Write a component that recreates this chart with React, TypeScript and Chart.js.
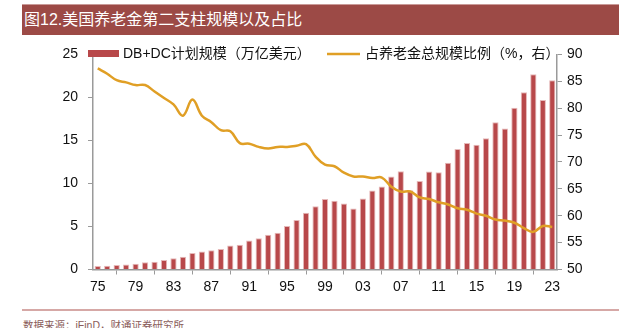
import React, { useEffect, useRef } from "react";
import { Chart, registerables } from "chart.js";

Chart.register(...registerables);

const years: string[] = [
  "1975", "1976", "1977", "1978", "1979", "1980", "1981", "1982", "1983", "1984",
  "1985", "1986", "1987", "1988", "1989", "1990", "1991", "1992", "1993", "1994",
  "1995", "1996", "1997", "1998", "1999", "2000", "2001", "2002", "2003", "2004",
  "2005", "2006", "2007", "2008", "2009", "2010", "2011", "2012", "2013", "2014",
  "2015", "2016", "2017", "2018", "2019", "2020", "2021", "2022", "2023",
];

// DB+DC 计划规模（万亿美元）
const planAssets: number[] = [
  0.42, 0.45, 0.53, 0.57, 0.68, 0.83, 0.9, 1.09, 1.32, 1.47,
  1.92, 2.08, 2.23, 2.38, 2.79, 2.87, 3.36, 3.62, 4.04, 4.26,
  5.06, 5.74, 6.6, 7.36, 8.19, 8.0, 7.66, 7.09, 8.26, 9.17,
  9.66, 10.8, 11.43, 9.2, 10.3, 11.4, 11.3, 12.4, 14.0, 14.7,
  14.5, 15.25, 17.1, 16.4, 18.8, 20.6, 22.7, 19.7, 22.0,
];

// 占养老金总规模比例（%）
const shareOfTotal: number[] = [
  87.4, 86.4, 85.2, 84.8, 84.3, 84.3, 83.1, 81.9, 80.7, 78.6,
  81.6, 78.6, 77.4, 75.9, 75.7, 73.5, 73.4, 72.8, 72.5, 72.8,
  72.8, 73.0, 73.3, 71.0, 69.5, 69.2, 68.0, 67.3, 67.3, 67.0,
  67.1, 65.4, 64.5, 64.5, 63.4, 63.1, 62.5, 62.1, 61.4, 61.1,
  60.4, 60.0, 59.3, 59.1, 58.7, 57.7, 57.0, 58.1, 57.9,
];

const leftTicks = { min: 0, max: 25, step: 5 };
const rightTicks = { min: 50, max: 90, step: 5 };

const barLabel = "DB+DC计划规模（万亿美元）";
const lineLabel = "占养老金总规模比例（%，右）";
const titleText = "图12.美国养老金第二支柱规模以及占比";
const sourceText = "数据来源：iFinD，财通证券研究所";

const BAR_COLOR = "#b8484a";
const LINE_COLOR = "#e09f25";
const AXIS_COLOR = "#9a9a9a";
const FONT = '"Liberation Sans", "Noto Sans CJK SC", sans-serif';

const legendPlugin = {
  id: "customLegend",
  afterDatasetsDraw(chart: any) {
    const ctx = chart.ctx;
    ctx.save();
    ctx.font = `14px ${FONT}`;
    ctx.textBaseline = "middle";
    ctx.fillStyle = BAR_COLOR;
    ctx.fillRect(88, 14, 31, 7);
    ctx.fillStyle = "#111";
    ctx.fillText(barLabel, 123, 18);
    ctx.strokeStyle = LINE_COLOR;
    ctx.lineWidth = 2.5;
    ctx.beginPath();
    ctx.moveTo(327, 18);
    ctx.lineTo(360, 18);
    ctx.stroke();
    ctx.fillStyle = "#111";
    ctx.fillText(lineLabel, 365, 18);
    ctx.restore();
  },
};

export default function App() {
  const canvasRef = useRef<HTMLCanvasElement | null>(null);

  useEffect(() => {
    if (!canvasRef.current) return;
    const chart = new Chart(canvasRef.current, {
      data: {
        labels: years,
        datasets: [
          {
            type: "line",
            label: lineLabel,
            data: shareOfTotal,
            yAxisID: "y1",
            borderColor: LINE_COLOR,
            borderWidth: 2.5,
            pointRadius: 0,
            tension: 0.4,
            fill: false,
            order: 0,
          },
          {
            type: "bar",
            label: barLabel,
            data: planAssets,
            yAxisID: "y",
            backgroundColor: BAR_COLOR,
            borderColor: "#e6b9b9",
            borderWidth: 1,
            categoryPercentage: 1,
            barPercentage: 0.66,
            order: 1,
          },
        ],
      } as any,
      options: {
        responsive: false,
        animation: false,
        layout: { padding: { top: 12, left: 0, right: 0, bottom: 0 } },
        plugins: {
          legend: { display: false },
          tooltip: { enabled: false },
        },
        scales: {
          x: {
            type: "category",
            offset: true,
            afterFit: (s: any) => {
              s.height = 36.5;
            },
            grid: {
              offset: true,
              drawOnChartArea: false,
              drawTicks: true,
              tickLength: 5,
              color: AXIS_COLOR,
              tickColor: AXIS_COLOR,
            },
            border: { color: AXIS_COLOR, width: 1.5 },
            ticks: {
              autoSkip: false,
              maxRotation: 0,
              padding: 4,
              color: "#111",
              font: { size: 14, family: FONT },
              callback: (_v: any, i: number) =>
                i % 4 === 0 ? years[i].slice(2) : null,
            },
          },
          y: {
            position: "left",
            min: leftTicks.min,
            max: leftTicks.max,
            afterFit: (s: any) => {
              s.width = 93;
            },
            grid: {
              drawOnChartArea: false,
              drawTicks: true,
              tickLength: 5,
              color: AXIS_COLOR,
              tickColor: AXIS_COLOR,
            },
            border: { color: AXIS_COLOR, width: 1.5 },
            ticks: {
              stepSize: leftTicks.step,
              padding: 10,
              color: "#111",
              font: { size: 14, family: FONT },
            },
          },
          y1: {
            position: "right",
            min: rightTicks.min,
            max: rightTicks.max,
            afterFit: (s: any) => {
              s.width = 62;
            },
            grid: {
              drawOnChartArea: false,
              drawTicks: true,
              tickLength: 5,
              color: AXIS_COLOR,
              tickColor: AXIS_COLOR,
            },
            border: { color: AXIS_COLOR, width: 1.5 },
            ticks: {
              stepSize: rightTicks.step,
              padding: 5,
              color: "#111",
              font: { size: 14, family: FONT },
            },
          },
        },
      } as any,
      plugins: [legendPlugin],
    });
    return () => chart.destroy();
  }, []);

  return (
    <div
      style={{
        position: "absolute",
        left: 0,
        top: 0,
        width: 619,
        height: 328,
        overflow: "hidden",
        background: "#fff",
        fontFamily: FONT,
      }}
    >
      <div
        style={{
          position: "absolute",
          left: 22,
          top: 4,
          width: 597,
          height: 31,
          background: "#9c4a46",
          borderTop: "1px solid #c99a98",
          boxSizing: "border-box",
          color: "#fff",
          fontSize: 16,
          lineHeight: "29px",
          paddingLeft: 2,
          fontFamily: '"Liberation Sans", "Noto Sans CJK SC", sans-serif',
        }}
      >
        {titleText}
      </div>
      <canvas
        ref={canvasRef}
        width={619}
        height={270}
        style={{ position: "absolute", left: 0, top: 36, width: 619, height: 270 }}
      />
      <div
        style={{
          position: "absolute",
          left: 22,
          top: 309,
          width: 597,
          height: 2,
          background: "#d6a8a6",
        }}
      />
      <div
        style={{
          position: "absolute",
          left: 23,
          top: 318,
          fontSize: 10.5,
          lineHeight: "14px",
          color: "#8a5c5a",
          whiteSpace: "nowrap",
        }}
      >
        {sourceText}
      </div>
    </div>
  );
}
